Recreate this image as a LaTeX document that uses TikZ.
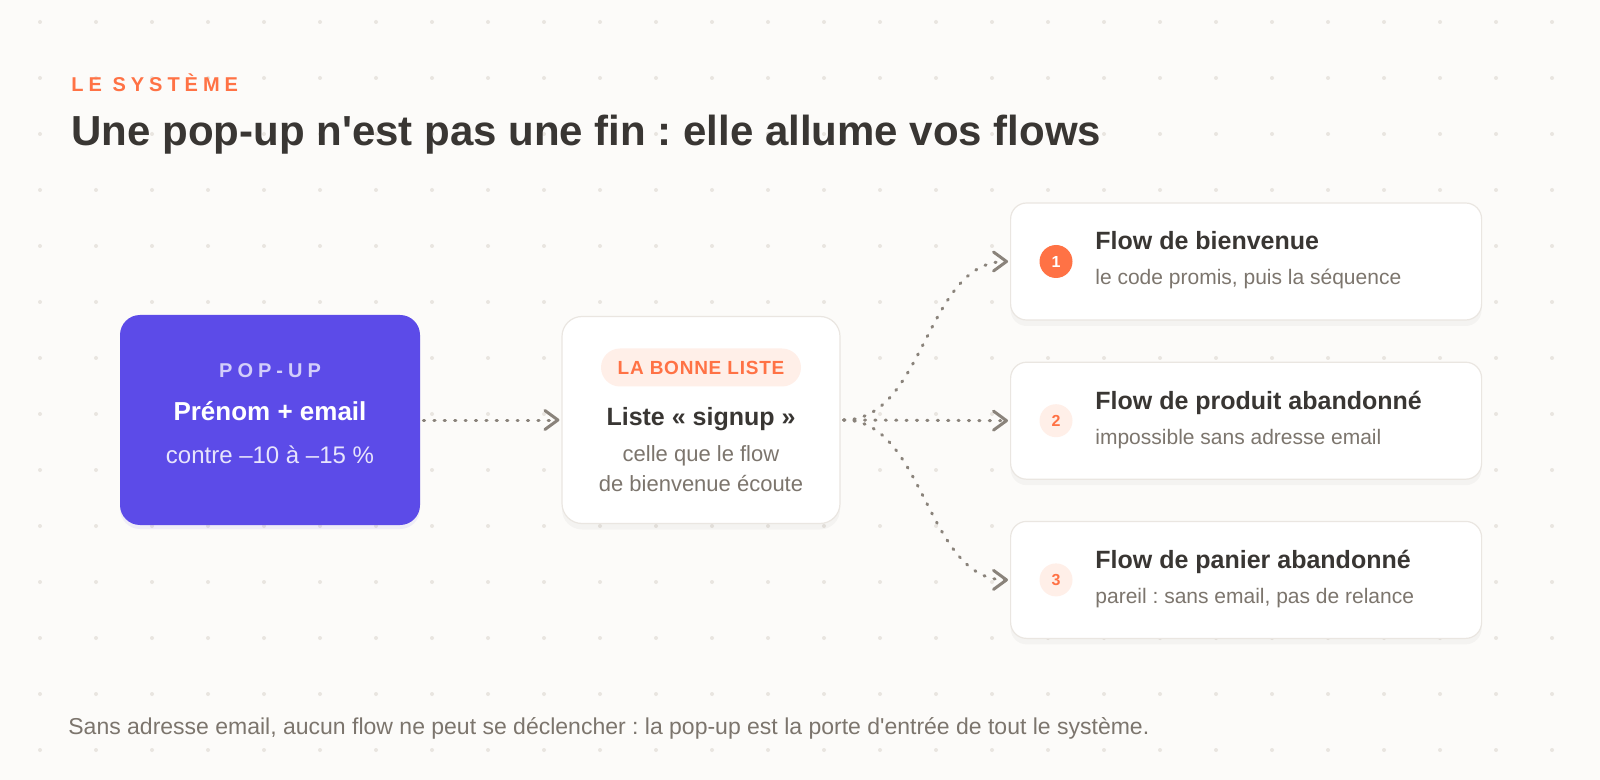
\documentclass[tikz,border=0pt]{standalone}
\usepackage{fontspec}
\setmainfont{Liberation Sans}
\newfontfamily\trackedfont{Liberation Sans}[LetterSpace=25]
\newfontfamily\trackedsmall{Liberation Sans}[LetterSpace=4]
\usetikzlibrary{positioning,shadows,arrows.meta}
\frenchspacing
\definecolor{paper}{HTML}{FCFBF9}
\definecolor{gridDot}{HTML}{E9E5E0}
\definecolor{popViolet}{HTML}{5C4BE8}
\definecolor{accent}{HTML}{FF7245}
\definecolor{peach}{HTML}{FFEFE8}
\definecolor{ink}{HTML}{393633}
\definecolor{muted}{HTML}{7C756D}
\definecolor{edge}{HTML}{8A837B}
\definecolor{cardLine}{HTML}{EAE6E1}
\definecolor{lilac}{HTML}{D3CEFA}
\tikzset{
  popupBox/.style={rectangle, rounded corners=10pt, fill=popViolet, minimum width=150pt, minimum height=105pt,
    drop shadow={opacity=.08, shadow xshift=0pt, shadow yshift=-2pt, fill=popViolet}},
  listBox/.style={rectangle, rounded corners=10pt, fill=white, draw=cardLine, line width=.6pt,
    minimum width=139pt, minimum height=103.5pt, drop shadow={opacity=.03, shadow xshift=0pt, shadow yshift=-3pt, fill=black}},
  flowCard/.style={rectangle, rounded corners=8pt, fill=white, draw=cardLine, line width=.6pt,
    minimum width=235.5pt, minimum height=58.5pt, drop shadow={opacity=.03, shadow xshift=0pt, shadow yshift=-3pt, fill=black}},
  badge/.style={rectangle, rounded corners=9.5pt, fill=peach, minimum width=100pt, minimum height=19pt, inner sep=0pt,
    text=accent, font=\trackedsmall\bfseries\fontsize{9.5}{11}\selectfont},
  numActive/.style={circle, fill=accent, text=white, minimum size=16.5pt, inner sep=0pt, font=\bfseries\fontsize{8}{9}\selectfont},
  numPlain/.style={numActive, fill=peach, text=accent},
  centerText/.style={anchor=base, inner sep=0pt},
  flowTitle/.style={anchor=base west, inner sep=0pt, text=ink, font=\bfseries\fontsize{12.5}{15}\selectfont},
  flowText/.style={anchor=base west, inner sep=0pt, text=muted, font=\fontsize{10.5}{13}\selectfont},
  link/.style={draw=edge, line width=1.5pt, line cap=round, dash pattern=on 0.6pt off 4.6pt,
    -{Straight Barb[length=6.5pt,width=9.5pt,round]}, shorten >=1pt, shorten <=1.5pt}
}
\begin{document}
\begin{tikzpicture}[x=.5pt, y=-.5pt]
  \fill[paper] (0,0) rectangle (1600,780);
  \useasboundingbox (0,0) rectangle (1600,780);
  % dot grid
  \foreach \i in {0,...,27}
    \foreach \j in {0,...,13}
      \fill[gridDot] (40+56*\i, 22+56*\j) circle[radius=2];

  \node[anchor=base west, inner sep=0pt, text=accent, font=\trackedfont\bfseries\fontsize{10}{12}\selectfont]
    (kicker) at (71,91.5) {LE SYSTÈME};
  \node[anchor=base west, inner sep=0pt, text=ink, font=\bfseries\fontsize{21}{25}\selectfont]
    (title) at (71,146) {Une pop-up n\textquotesingle est pas une fin : elle allume vos flows};

  % boxes
  \node[popupBox] (popup) at (270,420) {};
  \node[listBox, right=70.5pt of popup] (liste) {};
  \node[flowCard, anchor=west] (flowA) at (1010,261.5) {};
  \node[flowCard, below=20.5pt of flowA] (flowB) {};
  \node[flowCard, below=20.5pt of flowB] (flowC) {};

  % pop-up
  \node[centerText, text=lilac, font=\trackedfont\bfseries\fontsize{10}{12}\selectfont]
    (popTag) at ([yshift=21pt]popup.center) {POP-UP};
  \node[centerText, text=white, font=\bfseries\fontsize{13}{16}\selectfont]
    (popMain) at ([yshift=-.5pt]popup.center) {Prénom + email};
  \node[centerText, text=lilac!55!white, font=\fontsize{12}{14}\selectfont]
    (popOffer) at ([yshift=-21.5pt]popup.center) {contre –10 à –15 \%};

  % liste
  \node[badge] (listTag) at ([yshift=26.25pt]liste.center) {LA BONNE LISTE};
  \node[centerText, text=ink, font=\bfseries\fontsize{12.5}{15}\selectfont]
    (listName) at ([yshift=-2.75pt]liste.center) {Liste « signup »};
  \node[centerText, text=muted, font=\fontsize{11}{13}\selectfont]
    (listNoteA) at ([yshift=-20.75pt]liste.center) {celle que le flow};
  \node[centerText, text=muted, font=\fontsize{11}{13}\selectfont]
    (listNoteB) at ([yshift=-15pt]listNoteA.base) {de bienvenue écoute};

  % flows
  \node[numActive] (numA) at ([xshift=23pt]flowA.west) {1};
  \node[flowTitle] (headA) at ([xshift=42.5pt,yshift=5.75pt]flowA.west) {Flow de bienvenue};
  \node[flowText] (subA) at ([xshift=42.5pt,yshift=-11.75pt]flowA.west) {le code promis, puis la séquence};
  \node[numPlain] (numB) at ([xshift=23pt]flowB.west) {2};
  \node[flowTitle] (headB) at ([xshift=42.5pt,yshift=5.75pt]flowB.west) {Flow de produit abandonné};
  \node[flowText] (subB) at ([xshift=42.5pt,yshift=-11.75pt]flowB.west) {impossible sans adresse email};
  \node[numPlain] (numC) at ([xshift=23pt]flowC.west) {3};
  \node[flowTitle] (headC) at ([xshift=42.5pt,yshift=5.75pt]flowC.west) {Flow de panier abandonné};
  \node[flowText] (subC) at ([xshift=42.5pt,yshift=-11.75pt]flowC.west) {pareil : sans email, pas de relance};

  % links
  \draw[link] (popup.east) -- (liste.west);
  \draw[link] (liste.east) .. controls +(84,0) and +(-84,0) .. (flowA.west);
  \draw[link] (liste.east) -- (flowB.west);
  \draw[link] (liste.east) .. controls +(84,0) and +(-84,0) .. (flowC.west);

  \node[anchor=base west, inner sep=0pt, text=muted, font=\fontsize{11.5}{14}\selectfont] (footer) at (68,734)
    {Sans adresse email, aucun flow ne peut se déclencher : la pop-up est la porte d\textquotesingle entrée de tout le système.};
\end{tikzpicture}
\end{document}
